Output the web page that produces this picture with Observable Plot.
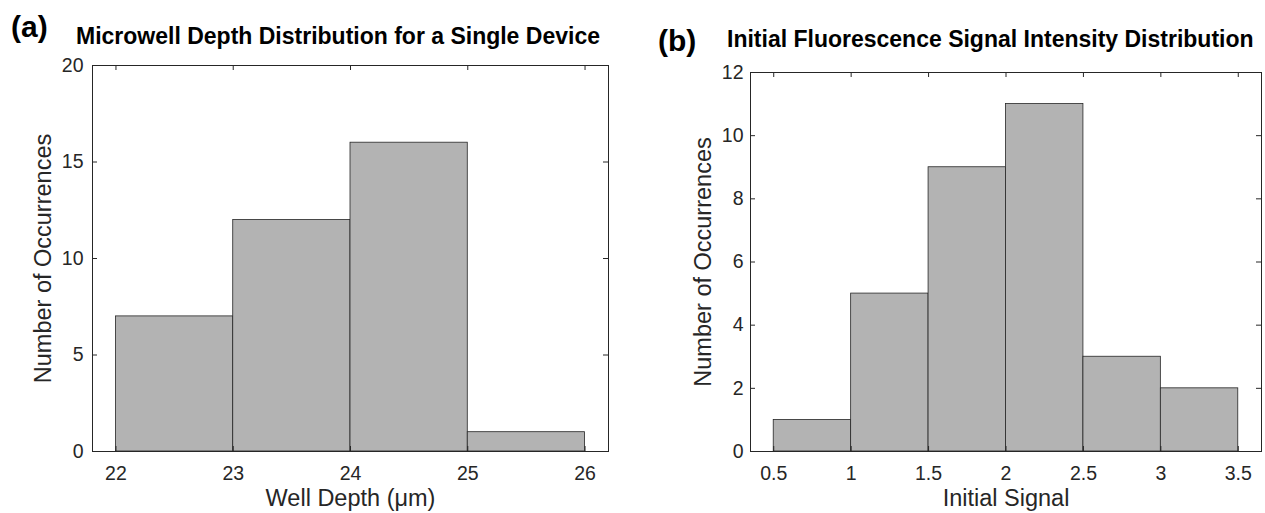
<!DOCTYPE html>
<html><head><meta charset="utf-8">
<script src="https://cdn.jsdelivr.net/npm/d3@7"></script>
<script src="https://cdn.jsdelivr.net/npm/@observablehq/plot@0.6"></script>
<style>
body{margin:0;background:#fff;font-family:"Liberation Sans",Arial,sans-serif;}
#wrap{position:relative;width:1265px;height:513px;overflow:hidden;background:#fff;}
.panel{position:absolute;top:0;}
.panel svg{background:transparent !important;}
.tag{position:absolute;font-weight:bold;font-size:30px;line-height:1;color:#000;z-index:5;}
.ttl{position:absolute;font-weight:bold;font-size:23px;line-height:1;color:#000;white-space:nowrap;z-index:5;}
</style></head>
<body><div id="wrap">
<div id="pa" class="panel" style="left:0"></div>
<div id="pb" class="panel" style="left:632px"></div>
<div class="tag" style="left:11px;top:12px">(a)</div>
<div class="ttl" style="left:76px;top:24.5px">Microwell Depth Distribution for a Single Device</div>
<div class="tag" style="left:658px;top:26px">(b)</div>
<div class="ttl" style="left:727px;top:27.5px">Initial Fluorescence Signal Intensity Distribution</div>
</div>
<script>
// Panel (a): well depth histogram
const depthEdges = [22, 23, 24, 25, 26];
const depthCounts = [7, 12, 16, 1];
const depthXTicks = [22, 23, 24, 25, 26];
const depthYTicks = [0, 5, 10, 15, 20];

// Panel (b): initial signal histogram
const signalEdges = [0.5, 1, 1.5, 2, 2.5, 3, 3.5];
const signalCounts = [1, 5, 9, 11, 3, 2];
const signalXTicks = [0.5, 1, 1.5, 2, 2.5, 3, 3.5];
const signalYTicks = [0, 2, 4, 6, 8, 10, 12];

const AX = "#262626";
const TICK_FS = 19.5;
const fmt = d3.format("~g");
function panel({edges, counts, xTicks, yTicks, xDomain, yDomain, width, height, mL, mR, mT, mB, xLabel, yLabel, yLabelOffset, yPad}) {
  const bins = counts.map((c, i) => ({x1: edges[i], x2: edges[i + 1], y: c}));
  const ph = height - mT - mB, pw = width - mL - mR, tl = 5;
  return Plot.plot({
    width, height, marginLeft: mL, marginRight: mR, marginTop: mT, marginBottom: mB,
    style: {fontFamily: "'Liberation Sans', Arial, sans-serif", fontSize: TICK_FS + "px", color: AX, background: "transparent"},
    x: {domain: xDomain, axis: null},
    y: {domain: yDomain, axis: null},
    marks: [
      Plot.rectY(bins, {x1: "x1", x2: "x2", y: "y", fill: "#b3b3b3", stroke: "#262626", strokeWidth: 0.8}),
      Plot.tickX(xTicks, {x: d => d, insetBottom: ph - tl, stroke: AX}),
      Plot.tickX(xTicks, {x: d => d, insetTop: ph - tl, stroke: AX}),
      Plot.tickY(yTicks, {y: d => d, insetRight: pw - tl, stroke: AX}),
      Plot.tickY(yTicks, {y: d => d, insetLeft: pw - tl, stroke: AX}),
      Plot.frame({stroke: AX}),
      Plot.text(xTicks, {x: d => d, text: d => fmt(d), frameAnchor: "bottom", dy: 15, lineAnchor: "top", textAnchor: "middle", fontSize: TICK_FS, fill: AX}),
      Plot.text(yTicks, {y: d => d, text: d => fmt(d), frameAnchor: "left", dx: -yPad, lineAnchor: "middle", textAnchor: "end", fontSize: TICK_FS, fill: AX}),
      Plot.text([xLabel], {text: d => d, frameAnchor: "bottom", dy: 47, fontSize: 23.5, fill: AX, lineAnchor: "middle", textAnchor: "middle"}),
      Plot.text([yLabel], {text: d => d, frameAnchor: "left", rotate: -90, dx: -yLabelOffset, fontSize: 23.5, fill: AX, lineAnchor: "middle", textAnchor: "middle"})
    ]
  });
}

const a = panel({edges: depthEdges, counts: depthCounts, xTicks: depthXTicks, yTicks: depthYTicks,
  xDomain: [21.8, 26.2], yDomain: [0, 20], width: 632, height: 513, mL: 92, mR: 24, mT: 65, mB: 62,
  xLabel: "Well Depth (μm)", yLabel: "Number of Occurrences", yLabelOffset: 49.5, yPad: 9});
const b = panel({edges: signalEdges, counts: signalCounts, xTicks: signalXTicks, yTicks: signalYTicks,
  xDomain: [0.35, 3.65], yDomain: [0, 12], width: 633, height: 513, mL: 118, mR: 4, mT: 72, mB: 62,
  xLabel: "Initial Signal", yLabel: "Number of Occurrences", yLabelOffset: 46.6, yPad: 7});
document.getElementById("pa").append(a);
document.getElementById("pb").append(b);
</script>
</body></html>
